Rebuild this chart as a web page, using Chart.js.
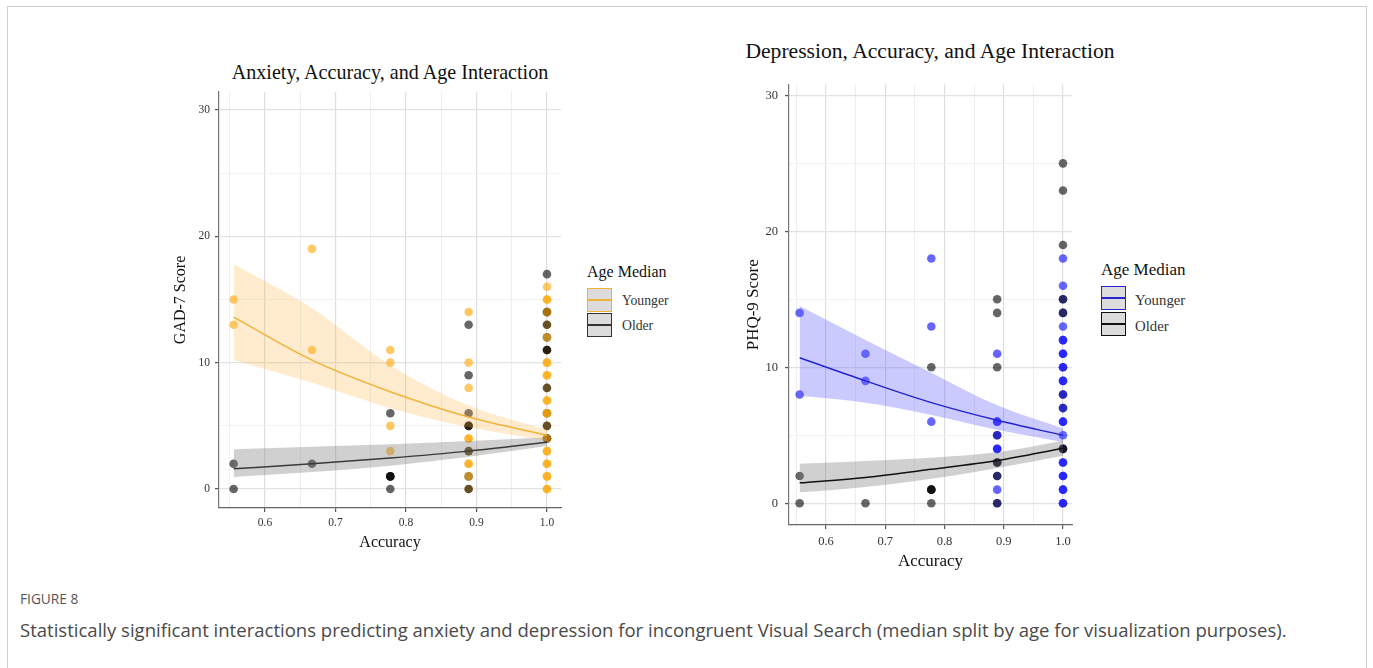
<!DOCTYPE html>
<html>
<head>
<meta charset="utf-8">
<script src="https://cdn.jsdelivr.net/npm/chart.js@4.4.1/dist/chart.umd.min.js"></script>
<style>
  body { margin: 0; width: 1373px; height: 668px; overflow: hidden; position: relative; background: #fff;
         font-family: "Liberation Serif", "DejaVu Serif", serif; color: #111; }
  .frame { position: absolute; left: 7px; top: 6px; width: 1358px; height: 720px; border: 1px solid #cfcfcf; }
  canvas { position: absolute; }
  .txt { position: absolute; white-space: nowrap; }
  .title { text-align: center; color: #111; }
  .key { position: absolute; box-sizing: border-box; width: 25px; height: 24px; background: #dcdcdc; border: 1.5px solid; }
  .key::after { content: ""; position: absolute; left: 0; right: 0; top: 10px; height: 1.5px; background: currentColor; }
  .cap { font-family: "Open Sans", "Noto Sans", sans-serif; }
</style>
</head>
<body>
<div class="frame"></div>

<div class="txt title" style="left:190px; width:400px; top:60px; font-size:20.1px; line-height:24px;">Anxiety, Accuracy, and Age Interaction</div>
<div class="txt title" style="left:730px; width:400px; top:38px; font-size:21.6px; line-height:26px;">Depression, Accuracy, and Age Interaction</div>

<canvas id="gad" width="430" height="490" style="left:150px; top:80px;"></canvas>
<canvas id="phq" width="370" height="510" style="left:720px; top:70px;"></canvas>

<div class="txt" style="left:587px; top:262px; font-size:16px; line-height:20px;">Age Median</div>
<div class="key" style="left:587px; top:288px; color:#f2b23a; border-color:#f2b23a;"></div>
<div class="key" style="left:587px; top:313px; color:#333; border-color:#333;"></div>
<div class="txt" style="left:622px; top:292px; font-size:13.7px; line-height:17px; color:#333;">Younger</div>
<div class="txt" style="left:622px; top:317px; font-size:13.7px; line-height:17px; color:#333;">Older</div>

<div class="txt" style="left:1101px; top:259px; font-size:17px; line-height:21px;">Age Median</div>
<div class="key" style="left:1101px; top:286px; color:#2424d0; border-color:#2424d0;"></div>
<div class="key" style="left:1101px; top:312px; color:#111; border-color:#111;"></div>
<div class="txt" style="left:1135px; top:291px; font-size:14.8px; line-height:18px; color:#333;">Younger</div>
<div class="txt" style="left:1135px; top:317px; font-size:14.8px; line-height:18px; color:#333;">Older</div>

<div class="txt cap" style="left:20px; top:590px; font-size:13.7px; line-height:18px; color:#555;">FIGURE 8</div>
<div class="txt cap" style="left:20px; top:617px; font-size:18.55px; line-height:26px; color:#4a4a4a;">Statistically significant interactions predicting anxiety and depression for incongruent Visual Search (median split by age for visualization purposes).</div>

<script>
// accuracy = correct answers out of 9
const trials = 9;
const xTicks = [0.55, 0.6, 0.65, 0.7, 0.75, 0.8, 0.85, 0.9, 0.95, 1.0];
const yTicks = [0, 5, 10, 15, 20, 25, 30];

// GAD-7 participants, in plotting order (Y = younger, O = older)
const gadCorrect = [
  5, 5, 5, 5,
  6, 6, 6,
  7, 7, 7, 7, 7, 7, 7, 7, 7,
  8, 8, 8, 8, 8, 8, 8, 8, 8, 8, 8, 8, 8, 8, 8, 8, 8, 8, 8,
  9, 9, 9, 9, 9, 9, 9, 9, 9, 9, 9, 9, 9, 9, 9, 9, 9, 9, 9, 9, 9, 9, 9, 9, 9, 9, 9, 9, 9, 9, 9, 9, 9, 9, 9, 9, 9, 9
];
const gadScore = [
  15, 13, 2, 0,
  19, 11, 2,
  11, 10, 5, 3, 6, 1, 1, 1, 0,
  14, 13, 10, 9, 8, 6, 5, 5, 5, 4, 4, 3, 3, 2, 2, 1, 1, 0, 0,
  17, 16, 15, 15, 14, 14, 14, 13, 13, 12, 12, 11, 11, 11, 10, 10, 9, 9, 8, 8, 7, 7, 6, 6, 6, 5, 5, 4, 4, 4, 3, 3, 2, 2, 1, 1, 0, 0
];
const gadGroup = [
  'Y', 'Y', 'O', 'O',
  'Y', 'Y', 'O',
  'Y', 'Y', 'Y', 'Y', 'O', 'O', 'O', 'O', 'O',
  'Y', 'O', 'Y', 'O', 'Y', 'O', 'Y', 'O', 'O', 'Y', 'Y', 'Y', 'O', 'Y', 'Y', 'O', 'Y', 'Y', 'O',
  'O', 'Y', 'Y', 'Y', 'O', 'O', 'Y', 'Y', 'O', 'O', 'Y', 'Y', 'O', 'O', 'Y', 'Y', 'Y', 'Y', 'Y', 'O', 'Y', 'Y', 'O', 'Y', 'Y', 'Y', 'O', 'O', 'O', 'Y', 'Y', 'Y', 'Y', 'Y', 'Y', 'Y', 'Y', 'Y'
];

// PHQ-9 participants, in plotting order
const phqCorrect = [
  5, 5, 5, 5,
  6, 6, 6,
  7, 7, 7, 7, 7, 7, 7, 7,
  8, 8, 8, 8, 8, 8, 8, 8, 8, 8, 8, 8, 8, 8, 8, 8, 8, 8,
  9, 9, 9, 9, 9, 9, 9, 9, 9, 9, 9, 9, 9, 9, 9, 9, 9, 9, 9, 9, 9, 9, 9, 9, 9, 9, 9, 9, 9, 9, 9, 9, 9, 9, 9, 9
];
const phqScore = [
  14, 8, 2, 0,
  11, 9, 0,
  18, 13, 6, 10, 1, 1, 1, 0,
  15, 14, 11, 10, 6, 6, 5, 5, 4, 4, 3, 3, 3, 2, 2, 1, 0, 0,
  25, 23, 19, 18, 16, 15, 15, 14, 14, 13, 12, 12, 11, 11, 10, 10, 9, 9, 8, 8, 7, 7, 6, 6, 5, 4, 4, 4, 3, 3, 2, 2, 1, 1, 0, 0
];
const phqGroup = [
  'Y', 'Y', 'O', 'O',
  'Y', 'Y', 'O',
  'Y', 'Y', 'Y', 'O', 'O', 'O', 'O', 'O',
  'O', 'O', 'Y', 'O', 'Y', 'Y', 'O', 'Y', 'Y', 'Y', 'Y', 'O', 'O', 'Y', 'O', 'Y', 'Y', 'O',
  'O', 'O', 'O', 'Y', 'Y', 'Y', 'O', 'Y', 'O', 'Y', 'Y', 'Y', 'Y', 'Y', 'Y', 'Y', 'Y', 'Y', 'O', 'Y', 'O', 'Y', 'Y', 'Y', 'Y', 'Y', 'O', 'O', 'Y', 'Y', 'Y', 'Y', 'Y', 'Y', 'Y', 'Y'
];

// fitted curves with confidence band, at 5..9 correct
const fitCorrect = [5, 6, 7, 8, 9];
const gadYoungFit = [13.6, 10.2, 7.7, 5.7, 4.25];
const gadYoungLo  = [10.2, 8.4, 6.4, 4.9, 3.8];
const gadYoungHi  = [17.8, 14.3, 9.8, 6.6, 4.7];
const gadOldFit   = [1.6, 2.0, 2.45, 3.0, 3.7];
const gadOldLo    = [0.95, 1.35, 1.85, 2.55, 3.4];
const gadOldHi    = [3.15, 3.35, 3.55, 3.8, 4.1];
const phqYoungFit = [10.7, 9.0, 7.4, 6.1, 5.0];
const phqYoungLo  = [7.9, 7.4, 6.5, 5.4, 4.5];
const phqYoungHi  = [14.5, 12.0, 9.6, 7.2, 5.5];
const phqOldFit   = [1.5, 1.9, 2.5, 3.15, 4.05];
const phqOldLo    = [0.8, 1.2, 1.8, 2.6, 3.5];
const phqOldHi    = [2.9, 3.1, 3.35, 3.75, 4.6];

const OLD_DOT = 'rgba(0,0,0,0.6)';
const isMajorX = v => Math.abs(v * 10 - Math.round(v * 10)) < 1e-6;

function buildChart(id, o) {
  const pts = o.correct.map((c, i) => ({ x: c / trials, y: o.score[i] }));
  const dotColors = o.group.map(g => g === 'Y' ? o.youngDot : OLD_DOT);
  const curve = arr => arr.map((v, i) => ({ x: fitCorrect[i] / trials, y: v }));
  const smooth = { pointRadius: 0, cubicInterpolationMode: 'monotone' };
  const band = (lo, hi, fill) => [
    { ...smooth, data: curve(lo), borderColor: 'transparent', borderWidth: 0, fill: false, order: 2 },
    { ...smooth, data: curve(hi), borderColor: 'transparent', borderWidth: 0, fill: '-1', backgroundColor: fill, order: 2 }
  ];

  return new Chart(document.getElementById(id), {
    type: 'line',
    data: {
      datasets: [
        { data: pts, showLine: false, pointRadius: 4.3, pointBorderWidth: 0, pointBackgroundColor: dotColors, order: 3 },
        ...band(o.youngLo, o.youngHi, o.youngBand),
        ...band(o.oldLo, o.oldHi, o.oldBand),
        { ...smooth, data: curve(o.youngFit), borderColor: o.youngLine, borderWidth: 1.5, fill: false, order: 1 },
        { ...smooth, data: curve(o.oldFit), borderColor: o.oldLine, borderWidth: 1.5, fill: false, order: 1 }
      ]
    },
    options: {
      responsive: false,
      animation: false,
      devicePixelRatio: 1,
      layout: { padding: { top: 10, right: o.padRight, left: 0, bottom: 0 } },
      plugins: { legend: { display: false }, tooltip: { enabled: false } },
      scales: {
        x: {
          type: 'linear', min: o.xMin, max: o.xMax,
          afterBuildTicks: s => { s.ticks = xTicks.map(v => ({ value: v })); },
          afterFit: s => { s.height = o.xHeight; },
          ticks: {
            autoSkip: false, maxRotation: 0, padding: o.xTickPad, color: '#333',
            font: { family: 'Liberation Serif', size: o.tickSize },
            callback: v => isMajorX(v) ? v.toFixed(1) : ''
          },
          grid: {
            color: c => isMajorX(c.tick.value) ? '#dedede' : '#ececec',
            lineWidth: c => isMajorX(c.tick.value) ? 1.2 : 0.9,
            tickLength: 4,
            tickColor: c => isMajorX(c.tick.value) ? '#555' : 'rgba(0,0,0,0)'
          },
          border: { color: '#666', width: 1.2 },
          title: {
            display: true, text: 'Accuracy', color: '#111',
            font: { family: 'Liberation Serif', size: o.titleSize },
            padding: { top: 0, bottom: o.xTitlePad }
          }
        },
        y: {
          type: 'linear', min: o.yMin, max: o.yMax,
          afterBuildTicks: s => { s.ticks = yTicks.map(v => ({ value: v })); },
          afterFit: s => { s.width = 69; },
          ticks: {
            autoSkip: false, padding: o.yTickPad, color: '#333',
            font: { family: 'Liberation Serif', size: o.tickSize },
            callback: v => v % 10 === 0 ? String(v) : ''
          },
          grid: {
            color: c => c.tick.value % 10 === 0 ? '#e2e2e2' : '#efefef',
            lineWidth: c => c.tick.value % 10 === 0 ? 1.2 : 0.8,
            tickLength: 4,
            tickColor: c => c.tick.value % 10 === 0 ? '#555' : 'rgba(0,0,0,0)'
          },
          border: { color: '#777', width: 1.2 },
          title: {
            display: true, text: o.yTitle, color: '#111',
            font: { family: 'Liberation Serif', size: o.titleSize },
            padding: { top: o.yTitlePad, bottom: 0 }
          }
        }
      }
    }
  });
}

buildChart('gad', {
  correct: gadCorrect, score: gadScore, group: gadGroup,
  youngFit: gadYoungFit, youngLo: gadYoungLo, youngHi: gadYoungHi,
  oldFit: gadOldFit, oldLo: gadOldLo, oldHi: gadOldHi,
  youngDot: 'rgba(255,165,0,0.6)', youngLine: '#f2b23a', oldLine: '#3a3a3a',
  youngBand: 'rgba(255,180,60,0.25)', oldBand: 'rgba(120,120,120,0.35)',
  yTitle: 'GAD-7 Score',
  xMin: 0.5348, xMax: 1.0199, yMin: -1.5, yMax: 31.42,
  padRight: 19, xHeight: 62, tickSize: 11.5, titleSize: 16,
  xTickPad: 3.7, yTickPad: 5, xTitlePad: 17.4, yTitlePad: 21.4
});

buildChart('phq', {
  correct: phqCorrect, score: phqScore, group: phqGroup,
  youngFit: phqYoungFit, youngLo: phqYoungLo, youngHi: phqYoungHi,
  oldFit: phqOldFit, oldLo: phqOldLo, oldHi: phqOldHi,
  youngDot: 'rgba(0,0,255,0.6)', youngLine: '#2424d0', oldLine: '#111',
  youngBand: 'rgba(90,90,255,0.32)', oldBand: 'rgba(120,120,120,0.35)',
  yTitle: 'PHQ-9 Score',
  xMin: 0.5376, xMax: 1.0152, yMin: -1.6, yMax: 30.8,
  padRight: 18, xHeight: 55, tickSize: 12.5, titleSize: 17,
  xTickPad: 5.2, yTickPad: 7, xTitlePad: 8.1, yTitlePad: 23.8
});
</script>
</body>
</html>
